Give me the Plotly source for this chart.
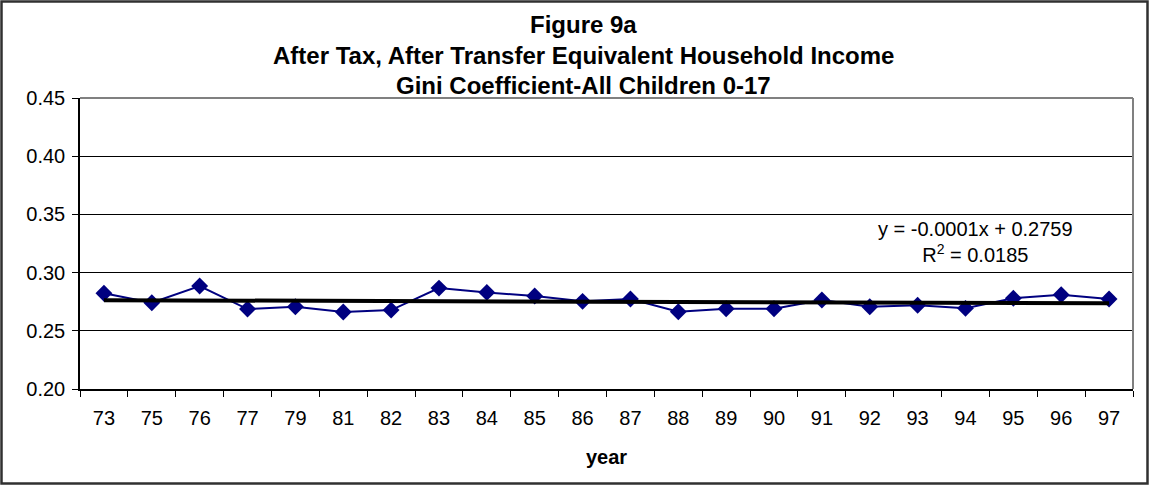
import numpy as np
import plotly.graph_objects as go

years = ["73", "75", "76", "77", "79", "81", "82", "83", "84", "85", "86",
         "87", "88", "89", "90", "91", "92", "93", "94", "95", "96", "97"]
gini = [0.2822, 0.2741, 0.2885, 0.2687, 0.2707, 0.2661, 0.2678, 0.2867, 0.2830, 0.2799, 0.2753,
        0.2773, 0.2664, 0.2689, 0.2689, 0.2764, 0.2707, 0.2719, 0.2693, 0.2779, 0.2810, 0.2773]
y_ticks = [0.20, 0.25, 0.30, 0.35, 0.40, 0.45]
title_lines = ["Figure 9a",
               "After Tax, After Transfer Equivalent Household Income",
               "Gini Coefficient-All Children 0-17"]
trend_text = "y = -0.0001x + 0.2759<br>R<sup>2</sup> = 0.0185"

W, H = 1150, 485
L, R, T, B = 80, 1133, 98, 389


def px(xp):
    return (xp - L) / (R - L)


def py(yp):
    return (B - yp) / (B - T)


idx = np.arange(1, len(gini) + 1)
slope, intercept = np.polyfit(idx, gini, 1)
trend = slope * idx + intercept

FONT = "Liberation Sans, Arial, sans-serif"

fig = go.Figure()
fig.add_trace(go.Scatter(
    x=years, y=gini, mode="lines+markers",
    line=dict(color="#000080", width=2),
    marker=dict(symbol="diamond", size=13, color="#000080"),
    showlegend=False, cliponaxis=False))
fig.add_trace(go.Scatter(
    x=years, y=trend, mode="lines",
    line=dict(color="#000000", width=4),
    showlegend=False))

annotations = []
for yy, txt in zip([24, 55, 86], title_lines):
    annotations.append(dict(
        x=px(583), y=py(yy), xref="paper", yref="paper", text=f"<b>{txt}</b>",
        showarrow=False, xanchor="center", yanchor="middle",
        font=dict(family=FONT, size=24, color="#000000")))
annotations.append(dict(
    x=px(975), y=py(242), xref="paper", yref="paper", text=trend_text,
    showarrow=False, xanchor="center", yanchor="middle", align="center",
    font=dict(family=FONT, size=20, color="#000000")))
annotations.append(dict(
    x=px(606), y=py(457), xref="paper", yref="paper", text="<b>year</b>",
    showarrow=False, xanchor="center", yanchor="middle",
    font=dict(family=FONT, size=20, color="#000000")))

shapes = [
    # outer chart border
    dict(type="rect", xref="paper", yref="paper",
         x0=px(1.5), x1=px(1147.5), y0=py(483.5), y1=py(1.5),
         line=dict(color="#303030", width=2.5), layer="above"),
    # plot area top and right border (gray)
    dict(type="line", xref="paper", yref="paper", x0=0, x1=1, y0=1, y1=1,
         line=dict(color="#808080", width=2), layer="above"),
    dict(type="line", xref="paper", yref="paper", x0=1, x1=1, y0=0, y1=1,
         line=dict(color="#808080", width=2), layer="above"),
]

fig.update_layout(
    width=W, height=H,
    margin=dict(l=L, r=W - R, t=T, b=H - B, pad=0),
    paper_bgcolor="white", plot_bgcolor="white",
    font=dict(family=FONT, size=20, color="#000000"),
    annotations=annotations, shapes=shapes,
    xaxis=dict(type="category", range=[-0.5, len(years) - 0.5],
               tickson="boundaries", ticks="outside",
               ticklen=6, tickcolor="#000000", showgrid=False,
               showline=True, linecolor="#000000", linewidth=1.5,
               ticklabelstandoff=10,
               tickfont=dict(family=FONT, size=20, color="#000000")),
    yaxis=dict(range=[0.20, 0.45], tickvals=y_ticks,
               ticktext=[f"{v:.2f}" for v in y_ticks],
               ticks="outside", ticklen=6, tickcolor="#000000",
               showgrid=True, gridcolor="#000000", gridwidth=1,
               zeroline=False, showline=True, linecolor="#000000", linewidth=1.5,
               ticklabelstandoff=3,
               tickfont=dict(family=FONT, size=20, color="#000000")),
)

fig.write_html("out.html", config={"displayModeBar": False},
               post_script="document.body.style.margin='0';document.body.style.overflow='hidden';")
